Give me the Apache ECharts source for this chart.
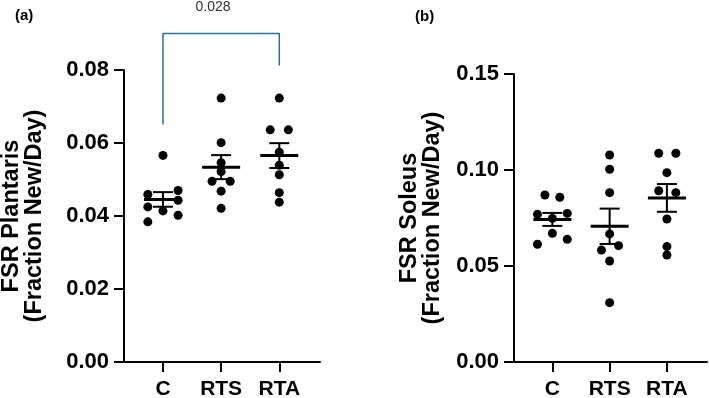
<!DOCTYPE html>
<html>
<head>
<meta charset="utf-8">
<script src="https://cdn.jsdelivr.net/npm/echarts@6/dist/echarts.min.js"></script>
<style>
  html, body { margin: 0; padding: 0; background: #fff; }
  #chart { width: 709px; height: 398px; }
</style>
</head>
<body>
<div id="chart"></div>
<script>
const groups = ["C", "RTS", "RTA"];

// FSR plantaris (fraction new/day), one array per group
const plantarisC = [0.0566, 0.0470, 0.0459, 0.0443, 0.0425, 0.0414, 0.0402, 0.0384];
const plantarisRTS = [0.0723, 0.0601, 0.0546, 0.0522, 0.0495, 0.0495, 0.0468, 0.0421];
const plantarisRTA = [0.0723, 0.0636, 0.0636, 0.0575, 0.0539, 0.0513, 0.0464, 0.0438];

// FSR soleus (fraction new/day)
const soleusC = [0.0870, 0.0858, 0.0769, 0.0774, 0.0748, 0.0670, 0.0639, 0.0613];
const soleusRTS = [0.1078, 0.1004, 0.0882, 0.0667, 0.0583, 0.0606, 0.0526, 0.0309];
const soleusRTA = [0.1087, 0.1087, 0.0986, 0.0892, 0.0882, 0.0745, 0.0601, 0.0557];

// which column each dot sits in (-1 left, 0 middle, 1 right)
const plantarisCol = [
  [0, 1, -1, 1, -1, 0, 1, -1],
  [0, 0, 0, 0, -0.6, 0.6, 0, 0],
  [0, -0.6, 0.6, 0, 0, 0, 0, 0],
];
const soleusCol = [
  [-0.5, 0.5, -1, 1, 0, 0, 1, -1],
  [0, 0, 0, 0, -0.55, 0.6, 0, 0],
  [-0.55, 0.6, 0, -0.55, 0.6, 0, 0, 0],
];

const yTicksPlantaris = { min: 0, max: 0.08, interval: 0.02 };
const yTicksSoleus = { min: 0, max: 0.15, interval: 0.05 };

const pValue = "0.028";

const COL_STEP = 0.26; // category units per jitter column
const FONT = "Liberation Sans, Arial, sans-serif";

function meanSem(arr) {
  const n = arr.length;
  const m = arr.reduce((a, b) => a + b, 0) / n;
  const sd = Math.sqrt(arr.reduce((a, b) => a + (b - m) * (b - m), 0) / (n - 1));
  return [m, sd / Math.sqrt(n)];
}

function dots(sets, cols) {
  const out = [];
  sets.forEach((vals, g) => {
    vals.forEach((v, i) => out.push([g + cols[g][i] * COL_STEP, v]));
  });
  return out;
}

function summary(sets) {
  return sets.map((vals, g) => {
    const ms = meanSem(vals);
    return [g, ms[0], ms[1]];
  });
}

function renderSem(params, api) {
  const x = api.value(0), m = api.value(1), s = api.value(2);
  const c = api.coord([x, m]);
  const hi = api.coord([x, m + s]);
  const lo = api.coord([x, m - s]);
  const st = { stroke: "#000", lineWidth: 2 };
  return {
    type: "group",
    children: [
      { type: "line", shape: { x1: c[0] - 19, y1: c[1], x2: c[0] + 19, y2: c[1] }, style: { stroke: "#000", lineWidth: 3 } },
      { type: "line", shape: { x1: c[0], y1: hi[1], x2: c[0], y2: lo[1] }, style: st },
      { type: "line", shape: { x1: c[0] - 10, y1: hi[1], x2: c[0] + 10, y2: hi[1] }, style: st },
      { type: "line", shape: { x1: c[0] - 10, y1: lo[1], x2: c[0] + 10, y2: lo[1] }, style: st },
    ],
  };
}

function xAxisFor(gridIndex) {
  return {
    gridIndex: gridIndex,
    type: "value",
    min: -0.67,
    max: 2.7,
    axisLine: { show: true, onZero: false, lineStyle: { color: "#000", width: 2 } },
    axisTick: { show: true, customValues: [0, 1, 2], length: 10, lineStyle: { color: "#000", width: 2 } },
    axisLabel: {
      customValues: [0, 1, 2],
      formatter: (v) => groups[Math.round(v)],
      color: "#000",
      fontWeight: "bold",
      fontSize: 21,
      fontFamily: FONT,
      margin: 17,
    },
    splitLine: { show: false },
  };
}

function yAxisFor(gridIndex, ticks, name, gap) {
  return {
    gridIndex: gridIndex,
    type: "value",
    min: ticks.min,
    max: ticks.max,
    interval: ticks.interval,
    axisLine: { show: true, onZero: false, lineStyle: { color: "#000", width: 2 } },
    axisTick: { show: true, length: 10, lineStyle: { color: "#000", width: 2 } },
    axisLabel: {
      color: "#000",
      fontWeight: "bold",
      fontSize: 22,
      fontFamily: FONT,
      margin: 15,
      formatter: (v) => v.toFixed(2),
    },
    splitLine: { show: false },
    name: name,
    nameLocation: "middle",
    nameRotate: 90,
    nameGap: gap,
    nameTextStyle: {
      color: "#000",
      fontWeight: "bold",
      fontSize: 23.5,
      lineHeight: 23,
      fontFamily: FONT,
    },
  };
}

const plantarisSets = [plantarisC, plantarisRTS, plantarisRTA];
const soleusSets = [soleusC, soleusRTS, soleusRTA];

const chart = echarts.init(document.getElementById("chart"));

const option = {
  animation: false,
  backgroundColor: "#fff",
  grid: [
    { left: 124, top: 70, width: 196, height: 292, outerBoundsMode: "none" },
    { left: 514, top: 74, width: 193, height: 288, outerBoundsMode: "none" },
  ],
  xAxis: [xAxisFor(0), xAxisFor(1)],
  yAxis: [
    yAxisFor(0, yTicksPlantaris, "FSR Plantaris\n(Fraction New/Day)", 78),
    yAxisFor(1, yTicksSoleus, "FSR Soleus\n(Fraction New/Day)", 70),
  ],
  series: [
    {
      type: "scatter",
      xAxisIndex: 0,
      yAxisIndex: 0,
      symbolSize: 9,
      itemStyle: { color: "#000", opacity: 1 },
      data: dots(plantarisSets, plantarisCol),
    },
    {
      type: "custom",
      xAxisIndex: 0,
      yAxisIndex: 0,
      renderItem: renderSem,
      data: summary(plantarisSets),
      z: 3,
    },
    {
      type: "scatter",
      xAxisIndex: 1,
      yAxisIndex: 1,
      symbolSize: 9,
      itemStyle: { color: "#000", opacity: 1 },
      data: dots(soleusSets, soleusCol),
    },
    {
      type: "custom",
      xAxisIndex: 1,
      yAxisIndex: 1,
      renderItem: renderSem,
      data: summary(soleusSets),
      z: 3,
    },
    {
      // significance bracket C vs RTA
      type: "line",
      xAxisIndex: 0,
      yAxisIndex: 0,
      clip: false,
      symbol: "none",
      lineStyle: { color: "#2f6f8f", width: 1.5 },
      data: [[0, 0.0651], [0, 0.090], [2, 0.090], [2, 0.0812]],
    },
  ],
};

chart.setOption(option);

const pPos = chart.convertToPixel({ xAxisIndex: 0, yAxisIndex: 0 }, [0.86, 0.0972]);
chart.setOption({
  graphic: [
    { type: "text", left: 15, top: 8, style: { text: "(a)", font: "bold 15px " + FONT, fill: "#000" } },
    { type: "text", left: 415, top: 9, style: { text: "(b)", font: "bold 15px " + FONT, fill: "#000" } },
    {
      type: "text",
      x: pPos[0],
      y: pPos[1],
      style: { text: pValue, font: "14px " + FONT, fill: "#333", align: "center", verticalAlign: "middle" },
    },
  ],
});
</script>
</body>
</html>
